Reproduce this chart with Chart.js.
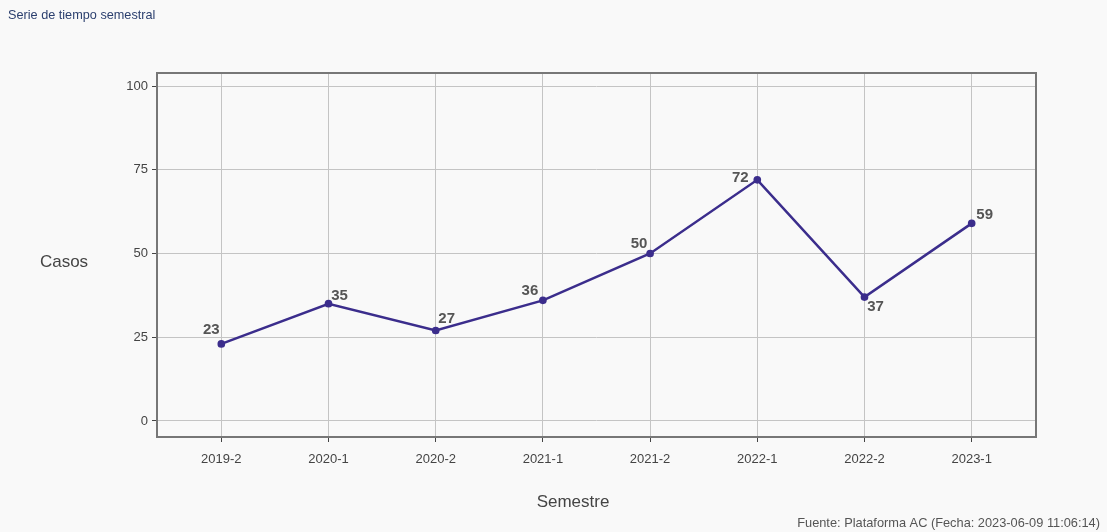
<!DOCTYPE html>
<html>
<head>
<meta charset="utf-8">
<script src="https://cdn.jsdelivr.net/npm/chart.js@4"></script>
<style>
  html, body { margin: 0; padding: 0; background: #f9f9f9; }
  #wrap { width: 1107px; height: 532px; position: relative; }
</style>
</head>
<body>
<div id="wrap"><canvas id="chart"></canvas></div>
<script>
// Data
const semestres = ['2019-2', '2020-1', '2020-2', '2021-1', '2021-2', '2022-1', '2022-2', '2023-1'];
const casos = [23, 35, 27, 36, 50, 72, 37, 59];
const yTicks = [0, 25, 50, 75, 100];

// label placement relative to each point (style only)
const labelOffsets = [[-10, -14], [11, -8], [11, -12], [-13, -10], [-11, -10], [-17, -2], [11, 10], [13, -8]];

const textFont = "'Liberation Sans', Arial, sans-serif";

const decor = {
    id: 'decor',
    afterDraw(chart) {
        const { ctx, chartArea: a } = chart;
        ctx.save();
        // panel border
        ctx.strokeStyle = '#777';
        ctx.lineWidth = 2;
        ctx.strokeRect(a.left, a.top, a.right - a.left, a.bottom - a.top);

        // point labels
        const meta = chart.getDatasetMeta(0);
        ctx.font = 'bold 15px ' + textFont;
        ctx.fillStyle = '#555';
        ctx.textAlign = 'center';
        ctx.textBaseline = 'middle';
        meta.data.forEach((pt, i) => {
            const off = labelOffsets[i];
            ctx.fillText(String(casos[i]), pt.x + off[0], pt.y + off[1]);
        });

        // titles
        ctx.font = '12.7px ' + textFont;
        ctx.fillStyle = '#2b3f6e';
        ctx.textAlign = 'left';
        ctx.fillText('Serie de tiempo semestral', 8, 15);

        ctx.font = '17px ' + textFont;
        ctx.fillStyle = '#444';
        ctx.textAlign = 'center';
        ctx.fillText('Casos', 64, 262);
        ctx.fillText('Semestre', 573, 502);

        ctx.font = '12.8px ' + textFont;
        ctx.fillStyle = '#555';
        ctx.textAlign = 'right';
        ctx.fillText('Fuente: Plataforma AC (Fecha: 2023-06-09 11:06:14)', 1100, 523);
        ctx.restore();
    }
};

new Chart(document.getElementById('chart'), {
    type: 'line',
    data: {
        datasets: [{
            data: casos.map((v, i) => ({ x: i, y: v })),
            borderColor: '#3b2d8c',
            backgroundColor: '#3b2d8c',
            borderWidth: 2.5,
            pointRadius: 2.6,
            pointHoverRadius: 2.6,
            tension: 0
        }]
    },
    options: {
        responsive: true,
        maintainAspectRatio: false,
        animation: false,
        layout: { padding: { left: 0, right: 71, top: 73, bottom: 0 } },
        plugins: { legend: { display: false }, tooltip: { enabled: false } },
        scales: {
            x: {
                type: 'linear',
                min: -0.6,
                max: 7.6,
                afterBuildTicks: s => { s.ticks = semestres.map((_, i) => ({ value: i })); },
                afterFit: s => { s.height = 95; },
                grid: { color: '#c4c4c4', tickColor: '#444', tickLength: 5, lineWidth: 1 },
                border: { display: false },
                ticks: {
                    color: '#444',
                    font: { family: textFont, size: 13 },
                    padding: 10,
                    maxRotation: 0,
                    callback: v => semestres[v]
                }
            },
            y: {
                min: -4.8,
                max: 103.9,
                afterBuildTicks: s => { s.ticks = yTicks.map(v => ({ value: v })); },
                afterFit: s => { s.width = 157; },
                grid: { color: '#c4c4c4', tickColor: '#444', tickLength: 5, lineWidth: 1 },
                border: { display: false },
                ticks: {
                    color: '#444',
                    font: { family: textFont, size: 13 },
                    padding: 4
                }
            }
        }
    },
    plugins: [decor]
});
</script>
</body>
</html>
